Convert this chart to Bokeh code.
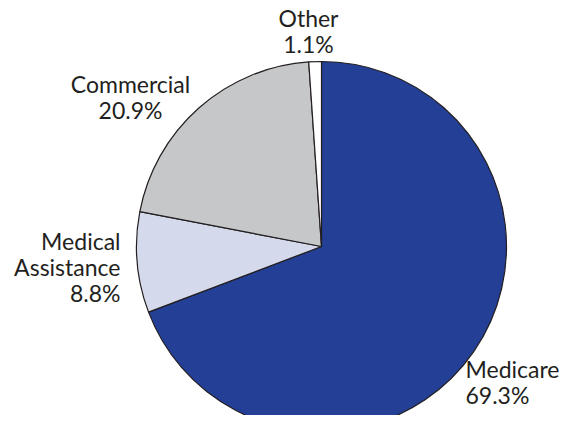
import numpy as np
from bokeh.plotting import figure
from bokeh.models import Range1d, ColumnDataSource
from bokeh.core.properties import value
from bokeh.embed import file_html
from bokeh.resources import INLINE

# ---- data ----
categories = ["Medicare", "Medical Assistance", "Commercial", "Other"]
shares = [69.3, 8.8, 20.9, 1.1]
colors = ["#233f96", "#d4d9ec", "#c6c7c9", "#ffffff"]
label_lines = [["Medicare", "69.3%"],
               ["Medical", "Assistance", "8.8%"],
               ["Commercial", "20.9%"],
               ["Other", "1.1%"]]

# ---- layout (pixel space of the figure) ----
W, H = 566, 415
cx, cy, R = 321, 169, 185
# anchor x, first baseline y (from top), alignment
label_anchor = [(465, 368, "left"),
                (120, 240, "right"),
                (130, 83, "center"),
                (308, 17, "center")]
line_step = 26

vals = np.array(shares, dtype=float)
frac = vals / vals.sum()
cum_end = np.cumsum(frac)
cum_start = cum_end - frac
start = np.pi / 2 - cum_end * 2 * np.pi
end = np.pi / 2 - cum_start * 2 * np.pi

src = ColumnDataSource(dict(start=start, end=end, color=colors, cat=categories))

p = figure(width=W, height=H, x_range=Range1d(0, W), y_range=Range1d(0, H),
           output_backend="svg", toolbar_location=None, min_border=0,
           x_axis_type=None, y_axis_type=None)
p.grid.visible = False
p.outline_line_color = None
p.background_fill_color = "white"
p.border_fill_color = "white"

p.wedge(x=cx, y=cy, radius=R, start_angle="start", end_angle="end",
        fill_color="color", line_color="#231f20", line_width=1.2, source=src)

tx, ty, ttext, talign = [], [], [], []
for lines, (ax, ay, al) in zip(label_lines, label_anchor):
    for i, t in enumerate(lines):
        tx.append(ax)
        ty.append(H - (ay + i * line_step))
        ttext.append(t)
        talign.append(al)

for al in ["left", "right", "center"]:
    idx = [i for i, a in enumerate(talign) if a == al]
    p.text(x=[tx[i] for i in idx], y=[ty[i] for i in idx], text=[ttext[i] for i in idx],
           text_align=al, text_baseline="alphabetic",
           text_font=value("Lato"), text_font_size="23px", text_color="#231f20")

open("out.html", "w").write(file_html(p, INLINE))
